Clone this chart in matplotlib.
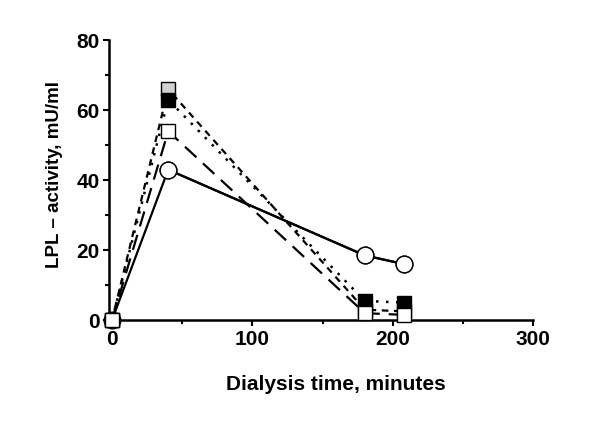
import matplotlib.pyplot as plt
from matplotlib.ticker import MultipleLocator

plt.rcParams['font.family'] = ['Liberation Sans', 'DejaVu Sans']
plt.rcParams['font.weight'] = 'bold'

time = [0, 40, 180, 208]
circles = [0, 43, 18.5, 16]
open_sq = [0, 54, 2, 1.5]
black_sq = [0, 63, 5.5, 5]
gray_sq = [0, 66, 3, 2.5]

fig = plt.figure(figsize=(6, 4.28), dpi=100)
ax = fig.add_axes([0.182, 0.252, 0.707, 0.654])

ax.plot(time, circles, color='k', lw=1.6, ls='-', marker='o', ms=12,
        mfc='white', mec='k', mew=1, clip_on=False, zorder=3)
ax.plot(time, gray_sq, color='k', lw=1.6, ls=(0, (3, 2.5)), marker='s', ms=9.5,
        mfc='#d0d0d0', mec='k', mew=1, clip_on=False, zorder=4)
ax.plot(time, black_sq, color='k', lw=1.8, ls=(0, (1, 3)), marker='s', ms=9.5,
        mfc='k', mec='k', mew=1, clip_on=False, zorder=5)
ax.plot(time, open_sq, color='k', lw=1.6, ls=(0, (7, 4)), marker='s', ms=9.5,
        mfc='white', mec='k', mew=1, clip_on=False, zorder=6)
# circle line drawn again on top for the later points
ax.plot(time[1:], circles[1:], color='k', lw=1.6, ls='-', marker='o', ms=12,
        mfc='white', mec='k', mew=1, clip_on=False, zorder=7)

ax.set_xlim(-2, 300)
ax.set_ylim(0, 80)
ax.xaxis.set_major_locator(MultipleLocator(100))
ax.xaxis.set_minor_locator(MultipleLocator(50))
ax.yaxis.set_major_locator(MultipleLocator(20))
ax.yaxis.set_minor_locator(MultipleLocator(10))
ax.tick_params(which='major', length=4, width=1.5, labelsize=15, pad=3)
ax.tick_params(which='minor', length=3, width=1.5)
for s in ['top', 'right']:
    ax.spines[s].set_visible(False)
for s in ['left', 'bottom']:
    ax.spines[s].set_linewidth(1.8)

ax.set_xlabel('Dialysis time, minutes', fontsize=15, fontweight='bold')
ax.set_ylabel('LPL \u2013 activity, mU/ml', fontsize=13.5, fontweight='bold')
ax.xaxis.set_label_coords(0.535, -0.196)
ax.yaxis.set_label_coords(-0.110, 0.52)

fig.savefig('out.png', dpi=100)
